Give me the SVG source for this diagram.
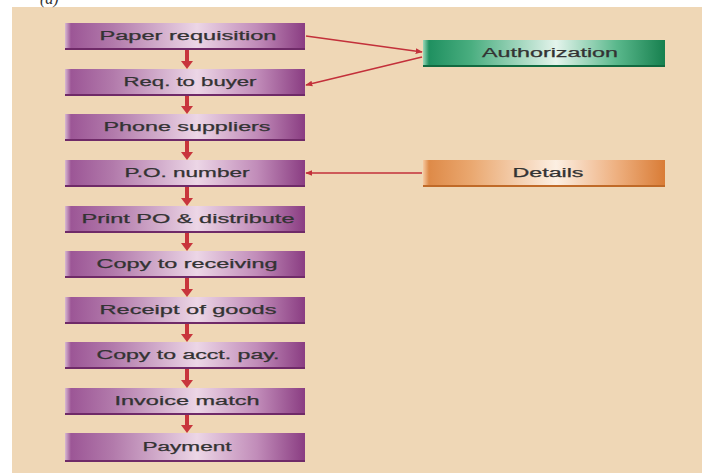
<svg xmlns="http://www.w3.org/2000/svg" width="709" height="473" viewBox="0 0 709 473">
<defs>
<linearGradient id="gp" x1="0" y1="0" x2="1" y2="0">
<stop offset="0" stop-color="#d8b8d2"/>
<stop offset="0.025" stop-color="#9c5696"/>
<stop offset="0.2" stop-color="#b27aab"/>
<stop offset="0.55" stop-color="#ecd6e6"/>
<stop offset="0.8" stop-color="#c18cb9"/>
<stop offset="1" stop-color="#8a3d82"/>
</linearGradient>
<linearGradient id="gg" x1="0" y1="0" x2="1" y2="0">
<stop offset="0" stop-color="#9ad8b8"/>
<stop offset="0.025" stop-color="#1f9060"/>
<stop offset="0.2" stop-color="#4aae80"/>
<stop offset="0.55" stop-color="#e4f4ec"/>
<stop offset="0.8" stop-color="#5ab88c"/>
<stop offset="1" stop-color="#17804f"/>
</linearGradient>
<linearGradient id="go" x1="0" y1="0" x2="1" y2="0">
<stop offset="0" stop-color="#f6c9a0"/>
<stop offset="0.025" stop-color="#de8a48"/>
<stop offset="0.2" stop-color="#eaa870"/>
<stop offset="0.55" stop-color="#fcefe2"/>
<stop offset="0.8" stop-color="#eeb080"/>
<stop offset="1" stop-color="#d97c36"/>
</linearGradient>
<marker id="ah" viewBox="0 0 10 10" refX="9" refY="5" markerWidth="7" markerHeight="7" orient="auto" markerUnits="userSpaceOnUse">
<path d="M0,1 L10,5 L0,9 z" fill="#c3303a"/>
</marker>
</defs>
<style>
.bp{fill:url(#gp)}
.bg{fill:url(#gg)}
.bo{fill:url(#go)}
.shp{fill:#6f2a68}
.shg{fill:#126a40}
.sho{fill:#c06a28}
.t{font-family:"Liberation Sans",Arial,sans-serif;font-size:12px;fill:#333333;stroke:#333333;stroke-width:0.25;text-anchor:middle}
.ln{stroke:#c3303a;stroke-width:1.6;fill:none}
.va{fill:#c8353c}
</style>
<rect x="0" y="0" width="709" height="473" fill="#ffffff"/>
<rect x="12" y="7" width="690" height="466" fill="#efd7b6"/>
<text x="40" y="4" font-family="Liberation Serif,serif" font-style="italic" font-size="16" fill="#333">(a)</text>

<g id="connectors">
<line class="ln" x1="306" y1="36" x2="422" y2="52" marker-end="url(#ah)"/>
<line class="ln" x1="422" y1="57" x2="306" y2="85" marker-end="url(#ah)"/>
<line class="ln" x1="422" y1="173" x2="306" y2="173" marker-end="url(#ah)"/>
<g id="vert">
<path class="va" d="M185,50 h4 v11 h4 l-6,8 l-6,-8 h4 z"/>
<path class="va" d="M185,96 h4 v10 h4 l-6,8 l-6,-8 h4 z"/>
<path class="va" d="M185,141 h4 v11 h4 l-6,8 l-6,-8 h4 z"/>
<path class="va" d="M185,187 h4 v11 h4 l-6,8 l-6,-8 h4 z"/>
<path class="va" d="M185,233 h4 v10 h4 l-6,8 l-6,-8 h4 z"/>
<path class="va" d="M185,278 h4 v11 h4 l-6,8 l-6,-8 h4 z"/>
<path class="va" d="M185,324 h4 v10 h4 l-6,8 l-6,-8 h4 z"/>
<path class="va" d="M185,369 h4 v11 h4 l-6,8 l-6,-8 h4 z"/>
<path class="va" d="M185,415 h4 v10 h4 l-6,8 l-6,-8 h4 z"/>
</g>
</g>

<g id="n1"><rect class="bp" x="65" y="23" width="240" height="27"/><rect class="shp" x="65" y="48" width="240" height="2"/><text class="t" x="188" y="40" textLength="177" lengthAdjust="spacingAndGlyphs">Paper requisition</text></g>
<g id="n2"><rect class="bp" x="65" y="69" width="240" height="27"/><rect class="shp" x="65" y="94" width="240" height="2"/><text class="t" x="190" y="86" textLength="133" lengthAdjust="spacingAndGlyphs">Req. to buyer</text></g>
<g id="n3"><rect class="bp" x="65" y="114" width="240" height="27"/><rect class="shp" x="65" y="139" width="240" height="2"/><text class="t" x="187" y="131" textLength="167" lengthAdjust="spacingAndGlyphs">Phone suppliers</text></g>
<g id="n4"><rect class="bp" x="65" y="160" width="240" height="27"/><rect class="shp" x="65" y="185" width="240" height="2"/><text class="t" x="187" y="177" textLength="125" lengthAdjust="spacingAndGlyphs">P.O. number</text></g>
<g id="n5"><rect class="bp" x="65" y="206" width="240" height="27"/><rect class="shp" x="65" y="231" width="240" height="2"/><text class="t" x="188" y="223" textLength="213" lengthAdjust="spacingAndGlyphs">Print PO &amp; distribute</text></g>
<g id="n6"><rect class="bp" x="65" y="251" width="240" height="27"/><rect class="shp" x="65" y="276" width="240" height="2"/><text class="t" x="187" y="268" textLength="181" lengthAdjust="spacingAndGlyphs">Copy to receiving</text></g>
<g id="n7"><rect class="bp" x="65" y="297" width="240" height="27"/><rect class="shp" x="65" y="322" width="240" height="2"/><text class="t" x="188" y="314" textLength="177" lengthAdjust="spacingAndGlyphs">Receipt of goods</text></g>
<g id="n8"><rect class="bp" x="65" y="342" width="240" height="27"/><rect class="shp" x="65" y="367" width="240" height="2"/><text class="t" x="188" y="359" textLength="183" lengthAdjust="spacingAndGlyphs">Copy to acct. pay.</text></g>
<g id="n9"><rect class="bp" x="65" y="388" width="240" height="27"/><rect class="shp" x="65" y="413" width="240" height="2"/><text class="t" x="187" y="405" textLength="145" lengthAdjust="spacingAndGlyphs">Invoice match</text></g>
<g id="n10"><rect class="bp" x="65" y="433" width="240" height="29"/><rect class="shp" x="65" y="460" width="240" height="2"/><text class="t" x="187" y="451" textLength="89" lengthAdjust="spacingAndGlyphs">Payment</text></g>

<g id="auth"><rect class="bg" x="423" y="40" width="242" height="27"/><rect class="shg" x="423" y="65" width="242" height="2"/><text class="t" x="550" y="57" textLength="136" lengthAdjust="spacingAndGlyphs">Authorization</text></g>
<g id="details"><rect class="bo" x="423" y="160" width="242" height="27"/><rect class="sho" x="423" y="185" width="242" height="2"/><text class="t" x="548" y="177" textLength="71" lengthAdjust="spacingAndGlyphs">Details</text></g>
</svg>
